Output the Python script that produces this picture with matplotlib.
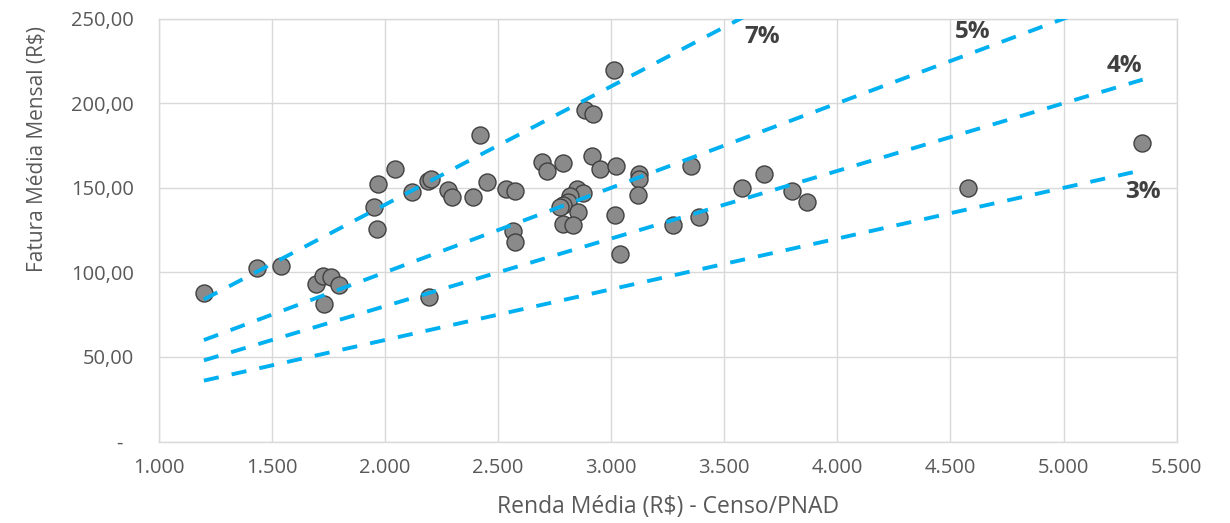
import matplotlib
matplotlib.use("Agg")
import matplotlib.pyplot as plt
from matplotlib.ticker import FuncFormatter, MultipleLocator

# scatter data
renda = [1200, 1433, 1542, 1694, 1725, 1762, 1796, 1731, 1952, 1965,
         1970, 2043, 2118, 2191, 2203, 2194, 2280, 2295, 2391, 2420,
         2453, 2535, 2577, 2568, 2574, 2696, 2717, 2787, 2885, 2921,
         3013, 2917, 2952, 3022, 3122, 3123, 3118, 3353, 2848, 2877,
         2818, 2811, 2789, 2774, 2855, 2789, 2833, 3017, 3039, 3275,
         3387, 3579, 3677, 3798, 3867, 4578, 5347]
fatura = [88.0, 102.5, 104.0, 93.3, 97.6, 97.2, 92.7, 81.1, 138.6, 125.4,
          152.5, 161.4, 147.5, 153.8, 155.4, 85.4, 148.9, 144.6, 144.6, 181.1,
          153.3, 149.3, 148.3, 124.3, 118.2, 165.1, 159.8, 164.9, 196.3, 193.5,
          219.5, 168.8, 161.4, 163.1, 158.4, 155.4, 145.7, 163.1, 149.5, 146.9,
          145.0, 141.6, 139.6, 138.6, 135.7, 128.8, 127.8, 133.7, 110.8, 128.2,
          132.7, 150.0, 158.3, 148.4, 141.9, 150.0, 176.3]

# reference lines (share of income), endpoints
line_labels = ["7%", "5%", "4%", "3%"]
line_x = [1200, 5350]
line_y = [[84.0, 374.5], [60.0, 267.5], [48.0, 214.0], [36.0, 160.5]]
label_pos = [(3669, 239), (4598, 242), (5269, 222), (5351, 147.7)]

LINE_COLOR = "#00B0F0"
GRID_COLOR = "#D9D9D9"
TICK_COLOR = "#595959"

plt.rcParams["font.family"] = ["Open Sans", "DejaVu Sans"]

fig = plt.figure(figsize=(12.3, 5.23), dpi=100)
ax = fig.add_axes([0.1290, 0.1558, 0.8276, 0.8084])

ax.scatter(renda, fatura, s=150, color="#8A8A8A", edgecolor="#404040",
           linewidth=1.0, zorder=3)

for ys in line_y:
    ax.plot(line_x, ys, color=LINE_COLOR, linewidth=2.8,
            dashes=(3.9, 3.4), dash_capstyle="butt", zorder=4)

for lab, (lx, ly) in zip(line_labels, label_pos):
    ax.text(lx, ly, lab, ha="center", va="center", fontsize=17.5,
            fontweight="bold", color="#404040", zorder=5)

ax.set_xlim(1000, 5500)
ax.set_ylim(0, 250)
ax.xaxis.set_major_locator(MultipleLocator(500))
ax.yaxis.set_major_locator(MultipleLocator(50))
ax.xaxis.set_major_formatter(FuncFormatter(lambda v, p: f"{v:,.0f}".replace(",", ".")))
ax.yaxis.set_major_formatter(FuncFormatter(
    lambda v, p: "-  " if v == 0 else f"{v:.2f}".replace(".", ",")))

ax.grid(True, color=GRID_COLOR, linewidth=1.0, zorder=0)
ax.set_axisbelow(True)
for sp in ax.spines.values():
    sp.set_color(GRID_COLOR)
    sp.set_linewidth(1.0)
ax.tick_params(length=0, labelsize=14.5, labelcolor=TICK_COLOR)
ax.tick_params(axis="x", pad=12)
ax.tick_params(axis="y", pad=18)

ax.set_xlabel("Renda Média (R$) - Censo/PNAD", fontsize=16.5, color=TICK_COLOR)
ax.xaxis.label.set_va("center")
ax.xaxis.set_label_coords(0.5, -0.155)
ax.set_ylabel("Fatura Média Mensal (R$)", fontsize=15, color=TICK_COLOR)
ax.yaxis.label.set_va("center")
ax.yaxis.set_label_coords(-0.1195, 0.692)

fig.savefig("out.png", dpi=100)
